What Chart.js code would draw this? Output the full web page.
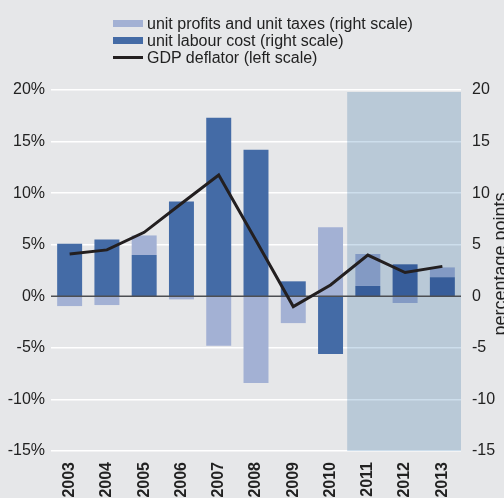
<!DOCTYPE html>
<html>
<head>
<meta charset="utf-8">
<script src="https://cdn.jsdelivr.net/npm/chart.js@4.4.0/dist/chart.umd.min.js"></script>
<style>
  html, body { margin: 0; padding: 0; background: #e6e7e9; overflow: hidden; }
  #wrap { position: relative; width: 504px; height: 498px; overflow: hidden; background: #e6e7e9; }
  #chart { position: absolute; left: 0; top: 0; }
  #legend { position: absolute; left: 113px; top: 15px; font-family: "Liberation Sans", Arial, sans-serif; font-size: 16px; color: #222; }
  .row { height: 17px; line-height: 17px; display: flex; align-items: center; white-space: nowrap; }
  .sw { width: 30px; margin-right: 4px; flex: none; }
</style>
</head>
<body>
<div id="wrap">
  <canvas id="chart" width="504" height="498"></canvas>
  <div id="legend"></div>
</div>
<script>
// ---- data ----
const years = ['2003','2004','2005','2006','2007','2008','2009','2010','2011','2012','2013'];
const unitLabourCost = [5.1, 5.5, 4.0, 9.2, 17.3, 14.2, 1.45, -5.6, 1.0, 3.1, 1.85];
const unitProfitsTaxes = [-0.95, -0.85, 1.9, -0.3, -4.8, -8.4, -2.6, 6.7, 3.1, -0.65, 0.95];
const gdpDeflator = [4.1, 4.5, 6.2, 9.0, 11.75, 5.4, -1.0, 1.1, 4.0, 2.3, 2.9];
const forecastStartIndex = 8;
const leftTicksLabel = v => v + '%';

const labelProfits = 'unit profits and unit taxes (right scale)';
const labelLabour = 'unit labour cost (right scale)';
const labelDeflator = 'GDP deflator (left scale)';
const rightTitle = 'percentage points';

const colDark = '#446ba6';
const colLight = '#a3b1d4';
const colLine = '#231f20';
const colBg = '#e6e7e9';
const FONT = '"Liberation Sans", Arial, sans-serif';

// HTML legend
const legend = document.getElementById('legend');
[[labelProfits, 'bar', colLight], [labelLabour, 'bar', colDark], [labelDeflator, 'line', colLine]].forEach(([t, kind, c]) => {
  const r = document.createElement('div'); r.className = 'row';
  const s = document.createElement('span'); s.className = 'sw';
  s.style.height = kind === 'bar' ? '7px' : '3px';
  s.style.background = c;
  const tx = document.createElement('span'); tx.textContent = t;
  r.appendChild(s); r.appendChild(tx); legend.appendChild(r);
});

const bgPlugin = {
  id: 'bg',
  beforeDraw(chart) {
    const ctx = chart.ctx;
    ctx.save();
    ctx.fillStyle = colBg;
    ctx.fillRect(0, 0, chart.width, chart.height);
    ctx.restore();
  },
  afterDraw(chart) {
    const ctx = chart.ctx, ca = chart.chartArea;
    ctx.save();
    ctx.translate(505.5, 264);
    ctx.rotate(-Math.PI / 2);
    ctx.font = '18px ' + FONT;
    ctx.fillStyle = '#222';
    ctx.textAlign = 'center';
    ctx.textBaseline = 'alphabetic';
    ctx.fillText(rightTitle, 0, 0);
    ctx.restore();
  }
};

const overlayPlugin = {
  id: 'overlay',
  beforeDatasetDraw(chart, args) {
    if (args.index !== 2) return;
    const ctx = chart.ctx, ca = chart.chartArea, xs = chart.scales.x, yl = chart.scales.yL;
    const catW = (ca.right - ca.left) / years.length;
    const x0 = xs.getPixelForValue(forecastStartIndex) - catW / 2 - 2;
    ctx.save();
    ctx.globalCompositeOperation = 'multiply';
    ctx.fillStyle = '#cddeec';
    ctx.fillRect(x0, ca.top + 2, ca.right - x0, ca.bottom - ca.top - 2);
    ctx.restore();
    // zero line
    const y0 = yl.getPixelForValue(0);
    ctx.save();
    ctx.strokeStyle = '#4d4f53';
    ctx.lineWidth = 1.6;
    ctx.beginPath(); ctx.moveTo(ca.left, y0); ctx.lineTo(ca.right, y0); ctx.stroke();
    ctx.restore();
  }
};

new Chart(document.getElementById('chart'), {
  data: {
    labels: years,
    datasets: [
      { type: 'bar', label: labelLabour, data: unitLabourCost, backgroundColor: colDark, yAxisID: 'yR', stack: 's', order: 1,
        categoryPercentage: 1, barPercentage: 0.67 },
      { type: 'bar', label: labelProfits, data: unitProfitsTaxes, backgroundColor: colLight, yAxisID: 'yR', stack: 's', order: 1,
        categoryPercentage: 1, barPercentage: 0.67 },
      { type: 'line', label: labelDeflator, data: gdpDeflator, borderColor: colLine, borderWidth: 3, pointRadius: 0,
        tension: 0, yAxisID: 'yL', order: 0, borderJoinStyle: 'miter' }
    ]
  },
  options: {
    responsive: false,
    animation: false,
    devicePixelRatio: 1,
    layout: { padding: { top: 90, left: 0, right: 0, bottom: 0 } },
    plugins: { legend: { display: false }, tooltip: { enabled: false } },
    scales: {
      x: {
        stacked: true,
        grid: { display: false, drawTicks: false },
        border: { display: false },
        ticks: { color: '#222', font: { family: FONT, size: 16, weight: 'bold' }, minRotation: 90, maxRotation: 90, padding: 11, autoSkip: false },
        afterFit(s) { s.height = 47; }
      },
      yL: {
        position: 'left', min: -15, max: 20,
        grid: { color: ctx => ctx.tick && ctx.tick.value === 0 ? 'rgba(0,0,0,0)' : '#ffffff', lineWidth: 1.5, drawTicks: false },
        border: { display: false },
        ticks: { stepSize: 5, color: '#222', font: { family: FONT, size: 16 }, padding: 6, callback: v => leftTicksLabel(v) },
        afterFit(s) { s.width = 51; }
      },
      yR: {
        position: 'right', min: -15, max: 20, stacked: true,
        grid: { display: false, drawTicks: false },
        border: { display: false },
        ticks: { stepSize: 5, color: '#222', font: { family: FONT, size: 16 }, padding: 11 },
        afterFit(s) { s.width = 504 - 461; }
      }
    }
  },
  plugins: [bgPlugin, overlayPlugin]
});
</script>
</body>
</html>
